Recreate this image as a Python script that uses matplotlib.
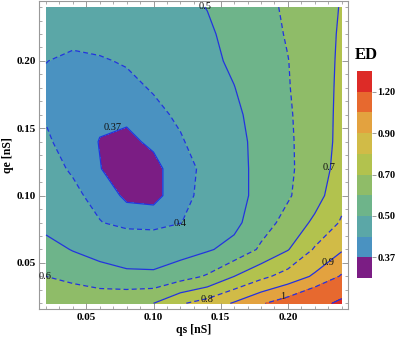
import numpy as np
import matplotlib
matplotlib.use('Agg')
import matplotlib.pyplot as plt
from matplotlib.ticker import MultipleLocator

plt.rcParams['font.family'] = ['Liberation Serif', 'DejaVu Serif']

# grid of the scan (nS)
qs = [0.02, 0.04, 0.06, 0.08, 0.10, 0.12, 0.14, 0.16, 0.18, 0.20, 0.22, 0.24]
qe = [0.02, 0.04, 0.06, 0.08, 0.10, 0.12, 0.14, 0.16, 0.18, 0.20, 0.22, 0.24]

# ED values, one row per qe (bottom to top)
ed = [
    [0.660, 0.670, 0.677, 0.685, 0.700, 0.790, 0.840, 0.910, 0.990, 1.050, 1.130, 1.240],
    [0.600, 0.575, 0.537, 0.520, 0.520, 0.560, 0.610, 0.700, 0.775, 0.840, 0.915, 1.010],
    [0.535, 0.495, 0.470, 0.450, 0.440, 0.460, 0.490, 0.530, 0.615, 0.695, 0.810, 0.890],
    [0.470, 0.445, 0.402, 0.385, 0.385, 0.398, 0.435, 0.475, 0.560, 0.630, 0.720, 0.810],
    [0.430, 0.410, 0.385, 0.365, 0.362, 0.385, 0.415, 0.465, 0.530, 0.590, 0.660, 0.770],
    [0.415, 0.395, 0.371, 0.355, 0.362, 0.385, 0.410, 0.465, 0.530, 0.585, 0.645, 0.740],
    [0.405, 0.385, 0.369, 0.364, 0.375, 0.394, 0.430, 0.475, 0.525, 0.588, 0.640, 0.730],
    [0.397, 0.385, 0.375, 0.375, 0.385, 0.410, 0.445, 0.480, 0.540, 0.590, 0.645, 0.725],
    [0.390, 0.380, 0.375, 0.385, 0.405, 0.435, 0.468, 0.498, 0.548, 0.595, 0.650, 0.720],
    [0.401, 0.390, 0.395, 0.405, 0.425, 0.450, 0.478, 0.515, 0.555, 0.598, 0.655, 0.715],
    [0.420, 0.415, 0.420, 0.430, 0.445, 0.465, 0.488, 0.525, 0.565, 0.607, 0.660, 0.710],
    [0.430, 0.430, 0.440, 0.450, 0.465, 0.480, 0.502, 0.540, 0.575, 0.613, 0.660, 0.705],
]

levels = [0.37, 0.4, 0.5, 0.6, 0.7, 0.8, 0.9, 1.0, 1.2]
bounds = [0.30] + levels + [1.30]
band_colors = ['#7b1d84', '#4a92c1', '#5ba7a7', '#6eb48a', '#8fbc68',
               '#b2c24e', '#d1bb47', '#e3a23f', '#e7692f', '#dd2b27']
cbar_ticks = [0.37, 0.50, 0.70, 0.90, 1.20]

contour_labels = [('0.37', 0.0695, 0.1505), ('0.4', 0.120, 0.079),
                  ('0.5', 0.1387, 0.2405), ('0.6', 0.0197, 0.040),
                  ('0.7', 0.231, 0.121), ('0.8', 0.140, 0.0229),
                  ('0.9', 0.230, 0.050), ('1', 0.196, 0.025)]

X, Y = np.meshgrid(qs, qe)
Z = np.array(ed)

fig = plt.figure(figsize=(3.97, 3.40), dpi=100)
ax = fig.add_axes([0.099, 0.0912, 0.7768, 0.9058])

cf = ax.contourf(X, Y, Z, levels=bounds, colors=band_colors)
styles = ['solid' if i % 2 == 0 else (0, (4, 2.5)) for i in range(len(levels))]
ax.contour(X, Y, Z, levels=levels, colors='#2233e0', linewidths=0.9,
           linestyles=styles)

for txt, x, y in contour_labels:
    ax.text(x, y, txt, fontsize=7.5, ha='center', va='center', color='#111111')

ax.set_xlim(0.015, 0.2445)
ax.set_ylim(0.0158, 0.2445)
ax.xaxis.set_major_locator(MultipleLocator(0.05))
ax.yaxis.set_major_locator(MultipleLocator(0.05))
ax.xaxis.set_minor_locator(MultipleLocator(0.01))
ax.yaxis.set_minor_locator(MultipleLocator(0.01))
ax.xaxis.set_major_formatter(plt.FormatStrFormatter('%.2f'))
ax.yaxis.set_major_formatter(plt.FormatStrFormatter('%.2f'))
ax.tick_params(which='both', direction='in', top=True, right=True, color='#888888')
ax.tick_params(which='major', length=4, width=0.6, labelsize=8)
ax.tick_params(axis='x', which='major', pad=3)
ax.tick_params(axis='y', which='major', pad=2.5)
ax.tick_params(which='minor', length=2, width=0.5)
for lab in ax.get_xticklabels() + ax.get_yticklabels():
    lab.set_fontweight('bold')
for sp in ax.spines.values():
    sp.set_color('#999999')
    sp.set_linewidth(0.8)

ax.set_xlabel('qs [nS]', fontsize=8.5, fontweight='bold', labelpad=1)
ax.set_ylabel('qe [nS]', fontsize=8.5, fontweight='bold', labelpad=1.5)

cax = fig.add_axes([357 / 397, 1 - 278 / 340, 15 / 397, 207 / 340])
cb = fig.colorbar(cf, cax=cax, ticks=cbar_ticks, spacing='uniform')
cb.outline.set_visible(False)
cb.ax.yaxis.set_major_formatter(plt.FormatStrFormatter('%.2f'))
cb.ax.tick_params(length=3, width=0.6, color='#888888', labelsize=7.5, pad=1)
cb.ax.minorticks_off()
for lab in cb.ax.get_yticklabels():
    lab.set_fontweight('bold')

fig.text(366 / 397, 1 - 55 / 340, 'ED', ha='center', va='center',
         fontsize=12, fontweight='bold')

fig.savefig('out.png', dpi=100)
